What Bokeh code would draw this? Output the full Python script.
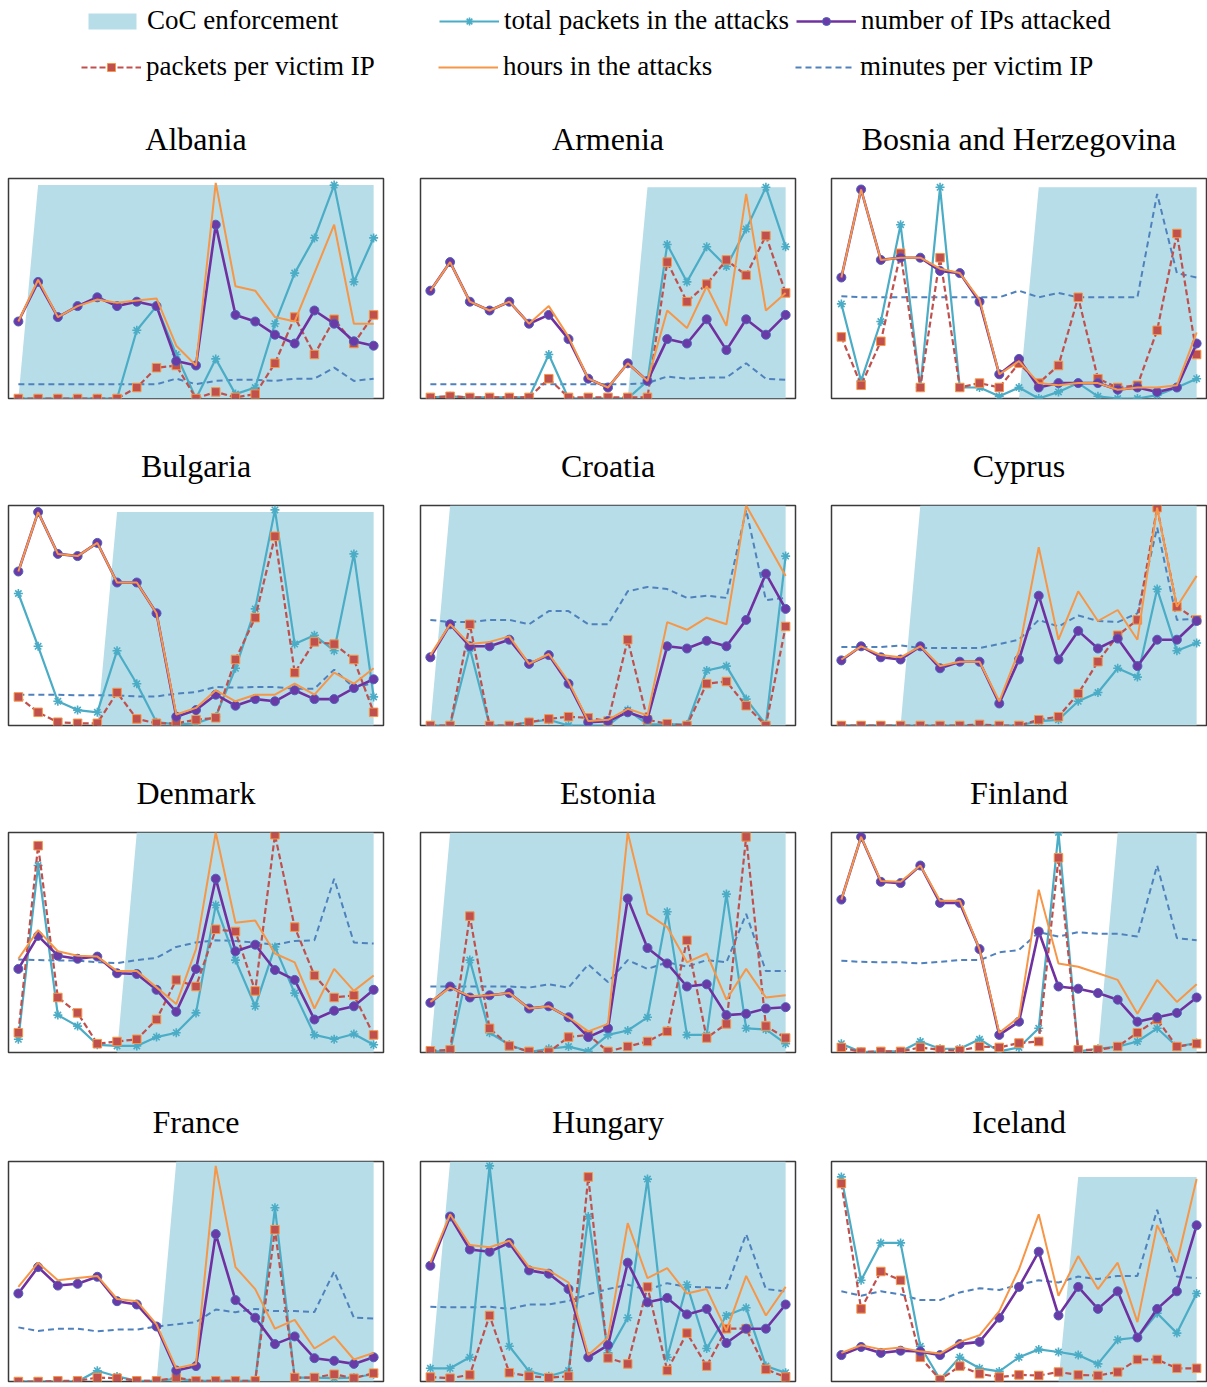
from bokeh.plotting import figure
from bokeh.models import Range1d, Legend, LegendItem, ColumnDataSource
from bokeh.layouts import column, row
from bokeh.embed import file_html
from bokeh.resources import INLINE

# ---------------- data (normalised 0-100 per panel) ----------------
periods = [0, 1, 2, 3, 4, 5, 6, 7, 8, 9, 10, 11, 12, 13, 14, 15, 16, 17, 18]

series_labels = ["CoC enforcement", "total packets in the attacks", "number of IPs attacked",
                 "packets per victim IP", "hours in the attacks", "minutes per victim IP"]

countries = ["Albania", "Armenia", "Bosnia and Herzegovina", "Bulgaria", "Croatia", "Cyprus",
             "Denmark", "Estonia", "Finland", "France", "Hungary", "Iceland"]

alb_coc = [0, 97, 97, 97, 97, 97, 97, 97, 97, 97, 97, 97, 97, 97, 97, 97, 97, 97, 97]
alb_packets = [0, 0, 0, 0, 0, 0, 31, 42, 20, 0, 18, 2, 5, 34, 57, 73, 97, 53, 73]
alb_ips = [35, 53, 37, 42, 46, 42, 44, 42, 17, 15, 79, 38, 35, 29, 25, 40, 34, 26, 24]
alb_ppv = [0, 0, 0, 0, 0, 0, 5, 14, 15, 0, 3, 0.5, 2, 16, 37, 20, 36, 25, 38]
alb_hours = [35, 54, 37, 42, 45, 43.5, 44.5, 45.5, 24, 15, 98, 51, 49, 37, 35, 57, 79, 34, 34]
alb_mpv = [6.5, 6.5, 6.5, 6.5, 6.5, 6.5, 6.5, 6.5, 9, 6.5, 8, 8.5, 8.5, 8, 9, 9, 14, 8, 9]

arm_coc = [0, 0, 0, 0, 0, 0, 0, 0, 0, 0, 0, 96, 96, 96, 96, 96, 96, 96, 96]
arm_packets = [0.5, 1, 0.5, 0.5, 0.5, 0.5, 20, 0, 0, 0, 0, 8, 70, 53, 69, 60, 77, 96, 69]
arm_ips = [49, 62, 44, 40, 44, 34, 38, 27, 9, 5, 16, 8, 27, 25, 36, 22, 36, 29, 38]
arm_ppv = [0.5, 1, 0.5, 0.5, 0.5, 0.5, 9, 0.5, 0.5, 0.5, 0.5, 0.5, 62, 44, 52, 63, 56, 74, 48]
arm_hours = [49, 62, 44, 40, 44, 34, 42, 28, 9, 5, 16, 8, 40, 32, 51, 33, 93, 40, 48]
arm_mpv = [6.5, 6.5, 6.5, 6.5, 6.5, 6.5, 6.5, 6.5, 6.5, 6.5, 6.5, 7, 10, 9, 9.5, 9.5, 16, 9, 8.5]

bih_coc = [0, 0, 0, 0, 0, 0, 0, 0, 0, 0, 96, 96, 96, 96, 96, 96, 96, 96, 96]
bih_packets = [43, 8, 35, 79, 5, 96, 5, 5, 1, 5, 0, 3, 7, 1, 0, 0, 1.5, 5, 9]
bih_ips = [55, 95, 63, 64, 64, 58, 57, 44, 11, 18, 5, 7, 7, 7, 4, 5, 3, 5, 25]
bih_ppv = [28, 6, 26, 66, 5, 64, 5, 7, 5, 16, 7, 15, 46, 9, 5, 6, 31, 75, 20]
bih_hours = [55, 95, 63, 64, 64, 59, 57, 45, 11, 17, 7, 6, 7, 7, 4, 5, 5, 6, 30]
bih_mpv = [46.5, 46, 46, 46, 46, 46, 46, 46, 46, 49, 46, 48, 46, 46, 46, 46, 93, 57, 55]

bgr_coc = [0, 0, 0, 0, 0, 97, 97, 97, 97, 97, 97, 97, 97, 97, 97, 97, 97, 97, 97]
bgr_packets = [60, 36, 11, 7, 6, 34, 19, 1.5, 0.5, 1, 4, 26, 53, 98, 37, 41, 34, 78, 13]
bgr_ips = [70, 97, 78, 77, 83, 65, 65, 51, 4, 7, 14, 9, 12, 11, 16, 12, 12, 17, 21]
bgr_ppv = [13, 6, 1.5, 1, 1, 15, 3, 1, 1, 2.6, 3.5, 30, 49, 86, 24, 38, 37, 30, 6]
bgr_hours = [70, 97, 78, 77, 83, 65, 65, 51, 5, 8, 16, 11, 14, 14, 19, 14, 24, 19, 26]
bgr_mpv = [14, 14, 14, 13.7, 13.7, 13.7, 13.2, 13.2, 14.5, 15.2, 17.5, 17.2, 17.5, 17.5, 16.7, 16.7, 25.4, 17.2, 19.3]

hrv_coc = [0, 100, 100, 100, 100, 100, 100, 100, 100, 100, 100, 100, 100, 100, 100, 100, 100, 100, 100]
hrv_packets = [0, 0, 35, 0, 0, 1.5, 2.6, 0, 0, 0, 7, 0.5, 0.5, 0.5, 25, 27, 12, 0.5, 77]
hrv_ips = [31, 46, 36, 36, 39, 28, 32, 19, 1.5, 2, 6, 3, 36, 35, 38.5, 36, 48, 69, 53]
hrv_ppv = [0, 0, 46, 0, 0, 1.5, 3, 4, 3.5, 2, 39, 2.6, 0.8, 0, 19, 20, 9, 0, 45]
hrv_hours = [32, 46, 37, 38, 40.5, 28, 32.5, 20, 2, 2.6, 7.6, 4.6, 47, 43.5, 49, 46, 100, 84, 68]
hrv_mpv = [48, 47, 47, 48, 48, 46, 52, 52, 46, 46, 61, 63, 62, 58, 59, 58, 98, 57, 58]

cyp_coc = [0, 0, 0, 0, 100, 100, 100, 100, 100, 100, 100, 100, 100, 100, 100, 100, 100, 100, 100]
cyp_packets = [0, 0, 0, 0, 0, 0, 0, 0, 0, 0, 2, 2.6, 11, 15, 26, 22, 62, 34, 37.5]
cyp_ips = [29.6, 36, 31, 30, 36, 26, 29, 29, 10, 30, 59, 30, 43, 35, 39.5, 27, 39, 39, 47.5]
cyp_ppv = [0, 0, 0, 0, 0, 0, 0, 0.5, 0, 0, 2.6, 4, 14.5, 29, 41, 48, 99, 54, 48]
cyp_hours = [30, 36, 32, 31, 36, 27, 29, 29, 11, 34, 81, 39, 61, 47.5, 52.5, 39, 99, 54, 68]
cyp_mpv = [35.7, 35.7, 35.7, 36.4, 35.2, 35.2, 35.2, 35.2, 37, 39, 48, 45, 50, 47.5, 47, 51, 90, 48, 48.5]

dnk_coc = [0, 0, 0, 0, 0, 0, 100, 100, 100, 100, 100, 100, 100, 100, 100, 100, 100, 100, 100]
dnk_packets = [6, 85, 17, 12, 3.5, 3, 3, 7, 9, 18, 67, 42, 21, 48, 27, 8, 6, 8.4, 3.5]
dnk_ips = [38, 53, 44, 42.6, 43.6, 36, 35.7, 28.5, 18.5, 38, 79, 46, 49, 37.5, 33, 15, 19, 21, 28.5]
dnk_ppv = [9, 94, 25, 18, 4, 5, 6, 15, 33, 30, 56, 55, 28, 99, 57, 35, 25, 26, 8]
dnk_hours = [42.6, 55.6, 46, 44, 43.6, 37, 37, 29.6, 22, 47, 100, 59, 60, 45, 41, 20, 38, 28, 35]
dnk_mpv = [42.3, 42, 41.8, 41.8, 41, 40.6, 42, 43, 48, 50, 51, 50.7, 50, 49, 50.7, 51, 79, 50, 49.5]

est_coc = [0, 100, 100, 100, 100, 100, 100, 100, 100, 100, 100, 100, 100, 100, 100, 100, 100, 100, 100]
est_packets = [0.5, 0.5, 42, 9, 3.5, 0.2, 1.7, 2.7, 0.5, 8, 10, 16, 64, 8, 8, 72, 11, 10.5, 4]
est_ips = [22.6, 30, 25, 26, 27, 20, 21, 16, 7, 11, 70, 47.5, 40.5, 30, 31, 17, 17.6, 20, 20.6]
est_ppv = [0.8, 1.2, 62, 11, 3, 0.5, 0.2, 7, 8, 0.5, 2.7, 5, 9.6, 51, 6.6, 13, 98, 12, 6.6]
est_hours = [23, 29.5, 25.6, 26, 27, 20, 21, 16, 9.6, 13, 100, 63, 57, 41, 45, 24, 38, 25, 26]
est_mpv = [30, 30, 30, 30, 30, 29.5, 31, 29.5, 40, 32, 42, 38, 41, 39, 42, 41, 63, 37, 37]

fin_coc = [0, 0, 0, 0, 0, 0, 0, 0, 0, 0, 0, 0, 0, 0, 100, 100, 100, 100, 100]
fin_packets = [4, 0.2, 0.5, 0.5, 5, 1.7, 1.7, 6, 0.5, 2.3, 11, 100, 0.5, 1.7, 2.7, 5, 11, 2.7, 4.3]
fin_ips = [69.5, 98, 77.6, 77, 85, 68, 68, 47, 8, 14, 55, 30, 29, 27, 24, 14, 16, 18, 25]
fin_ppv = [2.3, 0.2, 0.5, 0.5, 2.3, 1.2, 0.9, 2.7, 2.3, 4.3, 5, 88.5, 1.2, 1.2, 2.7, 9, 15, 2.7, 4]
fin_hours = [69.5, 98, 78, 77.6, 85, 69, 69, 47, 9, 16, 74, 40.5, 39, 36, 33, 17.6, 33, 23, 31]
fin_mpv = [41.7, 41.2, 41, 41, 40.5, 41.2, 42, 42, 45.5, 46.6, 54.7, 52.7, 54.7, 54, 54, 52.7, 85, 52, 51]

fra_coc = [0, 0, 0, 0, 0, 0, 0, 0, 100, 100, 100, 100, 100, 100, 100, 100, 100, 100, 100]
fra_packets = [0, 0, 0, 0, 4.9, 2.3, 0.3, 0.3, 1.2, 0.3, 0.3, 0.3, 0.3, 79, 1.8, 1.8, 1.5, 1.8, 3.3]
fra_ips = [40, 52, 43.6, 44.4, 47.6, 36.5, 35, 25, 5, 7, 67, 37, 29, 17, 20.5, 10.6, 9.4, 8, 11]
fra_ppv = [0, 0, 0.3, 0.3, 1.8, 1.5, 0.3, 0.3, 1.8, 0.3, 0.3, 0.3, 0.3, 69, 1.8, 1.8, 3.3, 1.5, 3.8]
fra_hours = [43, 54, 46, 47, 48, 37.5, 36.5, 26, 6, 8, 98, 52, 42, 24, 28, 15, 20.5, 10, 13]
fra_mpv = [24.6, 23, 24, 24, 22.8, 23.6, 23.6, 25, 26, 27, 32.7, 31.5, 33, 32, 32, 31.6, 50, 29, 28.6]

hun_coc = [0, 100, 100, 100, 100, 100, 100, 100, 100, 100, 100, 100, 100, 100, 100, 100, 100, 100, 100]
hun_packets = [6, 6, 11, 98, 16, 4.6, 2.4, 5, 75, 13, 29, 92, 11, 44, 15, 30, 33.5, 7, 4]
hun_ips = [52.6, 75, 60, 59, 63, 50.5, 49, 42, 11, 16.5, 54, 36, 38, 30.5, 33, 17.5, 24, 24, 35]
hun_ppv = [2, 1.5, 3, 30, 4, 2.4, 1.7, 2.4, 93, 10.7, 8, 43, 5, 22, 7, 24, 24, 5.5, 2]
hun_hours = [54, 76, 62, 61, 64, 52, 50.5, 45, 12, 20, 72, 47, 51.5, 40, 42, 23, 48, 30, 43]
hun_mpv = [34, 33.7, 33.7, 34, 33, 35, 35, 36.6, 39.6, 42, 44, 41.6, 44.7, 43, 42.8, 42.4, 67, 42, 41]

isl_coc = [0, 0, 0, 0, 0, 0, 0, 0, 0, 0, 0, 0, 93, 93, 93, 93, 93, 93, 93]
isl_packets = [93, 46, 63, 63, 16, 1, 11, 6, 4.6, 11, 14.6, 13.4, 12, 8, 19, 20, 31, 22, 40]
isl_ips = [12, 15.7, 13, 14, 13.7, 12, 17, 18, 29, 43, 59, 30, 43, 33, 41, 20, 33, 41, 71]
isl_ppv = [90, 33, 50, 46, 11, 0.8, 7, 3.5, 2, 3, 2.7, 4.3, 3, 2.7, 4.3, 10, 10, 6, 6]
isl_hours = [13, 16.5, 14.6, 15.4, 13.7, 12.7, 18, 21, 32, 51, 76, 39, 57, 42, 54, 27, 71, 54, 92]
isl_mpv = [41, 39, 41, 39.6, 37, 37, 40.5, 42.4, 41.6, 44, 46, 45, 47.7, 46.6, 48, 48, 78, 47.7, 47]

panel_data = [
    (alb_coc, alb_packets, alb_ips, alb_ppv, alb_hours, alb_mpv),
    (arm_coc, arm_packets, arm_ips, arm_ppv, arm_hours, arm_mpv),
    (bih_coc, bih_packets, bih_ips, bih_ppv, bih_hours, bih_mpv),
    (bgr_coc, bgr_packets, bgr_ips, bgr_ppv, bgr_hours, bgr_mpv),
    (hrv_coc, hrv_packets, hrv_ips, hrv_ppv, hrv_hours, hrv_mpv),
    (cyp_coc, cyp_packets, cyp_ips, cyp_ppv, cyp_hours, cyp_mpv),
    (dnk_coc, dnk_packets, dnk_ips, dnk_ppv, dnk_hours, dnk_mpv),
    (est_coc, est_packets, est_ips, est_ppv, est_hours, est_mpv),
    (fin_coc, fin_packets, fin_ips, fin_ppv, fin_hours, fin_mpv),
    (fra_coc, fra_packets, fra_ips, fra_ppv, fra_hours, fra_mpv),
    (hun_coc, hun_packets, hun_ips, hun_ppv, hun_hours, hun_mpv),
    (isl_coc, isl_packets, isl_ips, isl_ppv, isl_hours, isl_mpv),
]

# ---------------- styles ----------------
COC_COLOR = "#B7DDE8"
CYAN = "#4BACC6"
PURPLE = "#7030A0"
PURPLE_FILL = "#6A3AA6"
PURPLE_EDGE = "#4E63B8"
RED = "#C0504D"
ORANGE = "#F79646"
BLUE = "#4F81BD"
SERIF = "Liberation Serif"


def make_source(data):
    coc, packets, ips, ppv, hours, mpv = data
    return ColumnDataSource(dict(period=periods, coc=coc, packets=packets, ips=ips,
                                 ppv=ppv, hours=hours, mpv=mpv))


def draw_series(p, src):
    r_coc = p.varea(x="period", y1=0, y2="coc", source=src, fill_color=COC_COLOR)
    r_mpv = p.line("period", "mpv", source=src, line_color=BLUE, line_width=2, line_dash="6 4")
    r_pk_l = p.line("period", "packets", source=src, line_color=CYAN, line_width=2.2)
    r_pk_m = p.scatter("period", "packets", source=src, marker="asterisk", size=9,
                       line_color=CYAN, line_width=1.6)
    r_ppv_l = p.line("period", "ppv", source=src, line_color=RED, line_width=2.2, line_dash="6 3")
    r_ppv_m = p.scatter("period", "ppv", source=src, marker="square", size=8.5,
                        fill_color=RED, line_color=ORANGE, line_width=1)
    r_ips_l = p.line("period", "ips", source=src, line_color=PURPLE, line_width=2.6)
    r_ips_m = p.scatter("period", "ips", source=src, marker="circle", size=9,
                        fill_color=PURPLE_FILL, line_color=PURPLE_EDGE, line_width=1)
    r_hours = p.line("period", "hours", source=src, line_color=ORANGE, line_width=2)
    return r_coc, (r_pk_l, r_pk_m), (r_ips_l, r_ips_m), (r_ppv_l, r_ppv_m), r_hours, r_mpv


ROW_TOP = [90, 105, 105, 107]
COL_LEFT = [8, 1, 1]
COL_RIGHT = [36, 35, 1]
FRAME_W = 375
FRAME_H = 220


def make_panel(name, data, r, c):
    top = ROW_TOP[r]
    p = figure(width=COL_LEFT[c] + FRAME_W + COL_RIGHT[c], height=top + FRAME_H + 2,
               x_range=Range1d(-0.5, 18.5), y_range=Range1d(0, 100),
               x_axis_type=None, y_axis_type=None, toolbar_location=None,
               output_backend="svg", title=name,
               min_border_left=COL_LEFT[c], min_border_right=COL_RIGHT[c],
               min_border_top=top, min_border_bottom=2)
    p.title.align = "center"
    p.title.text_font = SERIF
    p.title.text_font_size = "32px"
    p.title.text_font_style = "normal"
    p.title.text_color = "black"
    p.title.standoff = 44
    p.outline_line_color = "#3a3a3a"
    p.outline_line_width = 1.5
    p.background_fill_color = "white"
    p.border_fill_color = "white"
    draw_series(p, make_source(data))
    return p


# ---------------- legend figure ----------------
# the legend figure reuses the first panel's series, with a view window that
# holds no data, so only the legend entries are visible
lg = figure(width=1207, height=88, x_range=Range1d(-100, -99), y_range=Range1d(-100, -99),
            x_axis_type=None, y_axis_type=None, toolbar_location=None,
            output_backend="svg", min_border=0, outline_line_color=None)
r_coc, r_pk, r_ips, r_ppv, r_hours, r_mpv = draw_series(lg, make_source(panel_data[0]))


def make_legend(items, loc):
    return Legend(items=items, orientation="horizontal", location=loc,
                  glyph_width=60, glyph_height=20, label_standoff=5, label_width=292,
                  label_height=28, spacing=0, padding=0, margin=0,
                  border_line_color=None, background_fill_alpha=0,
                  label_text_font=SERIF, label_text_font_size="27px",
                  label_text_color="black")


leg1 = make_legend([
    LegendItem(label=series_labels[0], renderers=[r_coc]),
    LegendItem(label=series_labels[1], renderers=list(r_pk)),
    LegendItem(label=series_labels[2], renderers=list(r_ips)),
], (82, 52))
leg2 = make_legend([
    LegendItem(label=series_labels[3], renderers=list(r_ppv)),
    LegendItem(label=series_labels[4], renderers=[r_hours]),
    LegendItem(label=series_labels[5], renderers=[r_mpv]),
], (81, 6))
lg.add_layout(leg1)
lg.add_layout(leg2)

rows = []
for r in range(4):
    figs = [make_panel(countries[r * 3 + c], panel_data[r * 3 + c], r, c) for c in range(3)]
    rows.append(row(*figs))

layout = column(lg, *rows)

open("out.html", "w").write(file_html(layout, INLINE))
